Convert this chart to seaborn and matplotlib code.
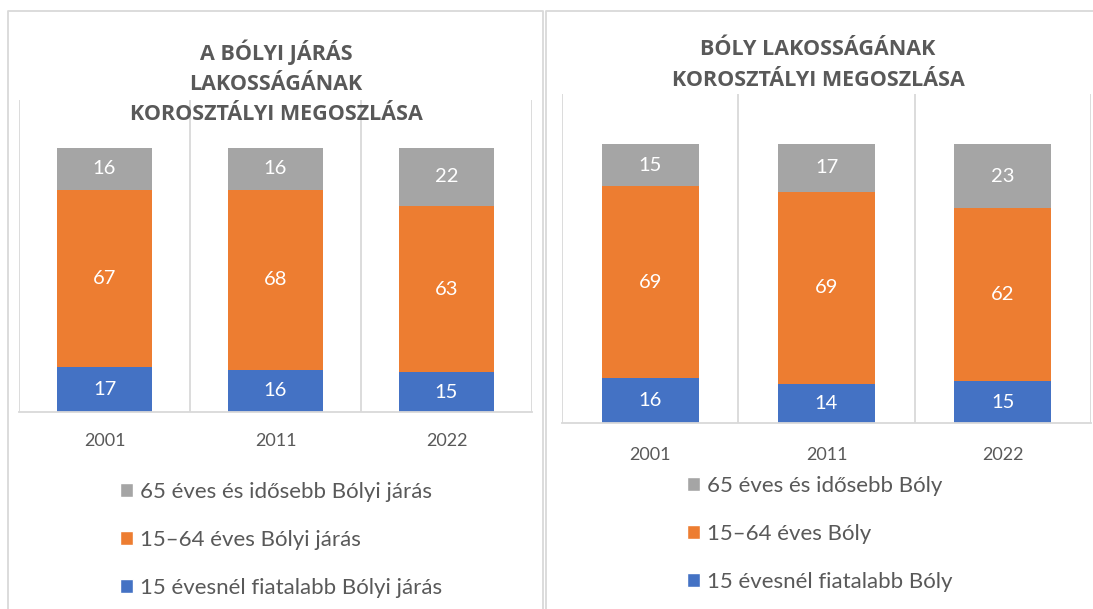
import matplotlib
matplotlib.use("Agg")
import matplotlib.pyplot as plt
from matplotlib.patches import Patch
from matplotlib.lines import Line2D
import pandas as pd
import seaborn as sns

sns.set_theme(style="white")
plt.rcParams["font.family"] = ["Lato", "DejaVu Sans"]

# Data: age-group shares (%) by census year
years = ["2001", "2011", "2022"]

jaras_young = [17, 16, 15]
jaras_working = [67, 68, 63]
jaras_old = [16, 16, 22]

boly_young = [16, 14, 15]
boly_working = [69, 69, 62]
boly_old = [15, 17, 23]

titles = [
    "A BÓLYI JÁRÁS\nLAKOSSÁGÁNAK\nKOROSZTÁLYI MEGOSZLÁSA",
    "BÓLY LAKOSSÁGÁNAK\nKOROSZTÁLYI MEGOSZLÁSA",
]
legend_labels = [
    ["65 éves és idősebb Bólyi járás", "15–64 éves Bólyi járás", "15 évesnél fiatalabb Bólyi járás"],
    ["65 éves és idősebb Bóly", "15–64 éves Bóly", "15 évesnél fiatalabb Bóly"],
]

C_YOUNG = "#4472C4"
C_WORK = "#ED7D31"
C_OLD = "#A5A5A5"
GRID = "#D9D9D9"
TEXT = "#595959"

W, H = 1093, 609
fig = plt.figure(figsize=(W / 100, H / 100), dpi=100)
fig.patch.set_facecolor("white")


def px_axes(x0, y0, x1, y1):
    """Create axes from pixel box (top-left origin)."""
    return fig.add_axes([x0 / W, 1 - y1 / H, (x1 - x0) / W, (y1 - y0) / H])


def fig_line(xs, ys):
    fig.add_artist(Line2D([x / W for x in xs], [1 - y / H for y in ys],
                          color=GRID, lw=1.3, transform=fig.transFigure))


def stacked(ax, young, working, old, tick_pad):
    df = pd.DataFrame({
        "year": years,
        "young": young,
        "working": working,
        "old": old,
    })
    df["top_work"] = df["young"] + df["working"]
    df["top_old"] = df["top_work"] + df["old"]
    # draw back-to-front so each layer shows as a stacked segment
    for col, color in [("top_old", C_OLD), ("top_work", C_WORK), ("young", C_YOUNG)]:
        sns.barplot(data=df, x="year", y=col, color=color, width=0.55,
                    saturation=1, ax=ax, edgecolor="none", linewidth=0)
    for i, row in df.iterrows():
        centers = [row["young"] / 2,
                   row["young"] + row["working"] / 2,
                   row["top_work"] + row["old"] / 2]
        vals = [row["young"], row["working"], row["old"]]
        for c, v in zip(centers, vals):
            ax.text(i, c, f"{v}", ha="center", va="center", color="white", fontsize=14.5)
    ax.set_xlim(-0.5, 2.5)
    ax.set_ylim(0, 118)
    ax.set_yticks([])
    ax.set_xlabel("")
    ax.set_ylabel("")
    for sp in ["top", "left", "right"]:
        ax.spines[sp].set_visible(False)
    ax.spines["bottom"].set_color(GRID)
    ax.spines["bottom"].set_linewidth(1.3)
    for xv in [-0.5, 0.5, 1.5, 2.5]:
        ax.axvline(xv, color=GRID, lw=1.3, zorder=0)
    ax.tick_params(axis="x", length=0, pad=tick_pad, labelsize=13, labelcolor=TEXT)


# chart frames
fig_line([8, 8, 543, 543], [H, 11, 11, H])
fig_line([546, 546, W], [H, 11, 11])

ax1 = px_axes(19, 100, 532, 412)
stacked(ax1, jaras_young, jaras_working, jaras_old, 15)
ax2 = px_axes(562, 94, 1091, 423)
stacked(ax2, boly_young, boly_working, boly_old, 17)

title_kw = dict(ha="center", va="center", fontsize=15.5, fontweight="bold",
                color=TEXT, linespacing=1.57, family=["Open Sans", "DejaVu Sans"])
fig.text(276 / W, 1 - 82 / H, titles[0], **title_kw)
fig.text(818 / W, 1 - 65 / H, titles[1], **title_kw)

handles = [Patch(facecolor=C_OLD), Patch(facecolor=C_WORK), Patch(facecolor=C_YOUNG)]
for (x, y), labels in zip([(120, 482), (687, 476)], legend_labels):
    fig.legend(handles, labels, loc="upper left",
               bbox_to_anchor=(x / W, 1 - y / H), frameon=False,
               fontsize=16, labelcolor=TEXT, handlelength=0.6, handleheight=0.6,
               handletextpad=0.3, labelspacing=1.25, borderaxespad=0, borderpad=0)

fig.savefig("out.png", dpi=100)
